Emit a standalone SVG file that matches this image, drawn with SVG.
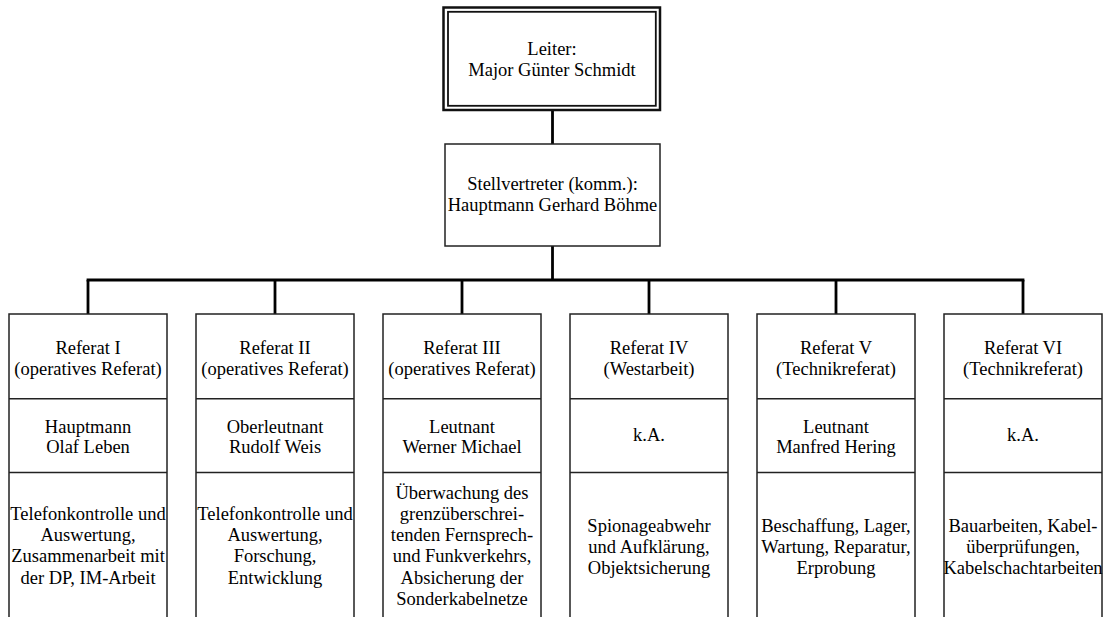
<svg xmlns="http://www.w3.org/2000/svg" width="1105" height="617" viewBox="0 0 1105 617">
<style>
  text { font-family: "Liberation Serif", "Times New Roman", serif; font-size: 18.5px; fill: #000; text-anchor: middle; }
  .box { fill: #fff; stroke: #222; stroke-width: 1.5; }
  .div { stroke: #222; stroke-width: 1.5; }
  .conn { stroke: #000; stroke-width: 2.8; fill: none; }
</style>
<rect width="1105" height="617" fill="#fff"/>
<g id="connectors">
  <line class="conn" x1="552.5" y1="110" x2="552.5" y2="144"/>
  <line class="conn" x1="552.5" y1="246" x2="552.5" y2="280"/>
  <line class="conn" x1="86.6" y1="280" x2="1024.4" y2="280"/>
  <line class="conn" x1="88" y1="280" x2="88" y2="314"/>
  <line class="conn" x1="275" y1="280" x2="275" y2="314"/>
  <line class="conn" x1="462" y1="280" x2="462" y2="314"/>
  <line class="conn" x1="649" y1="280" x2="649" y2="314"/>
  <line class="conn" x1="836" y1="280" x2="836" y2="314"/>
  <line class="conn" x1="1023" y1="280" x2="1023" y2="314"/>
</g>
<g id="leiter">
  <rect x="443.5" y="7.5" width="216.5" height="102.5" fill="#fff" stroke="#111" stroke-width="2.5"/>
  <rect x="448" y="11.8" width="207.8" height="94" fill="none" stroke="#111" stroke-width="1.8"/>
  <text x="552" y="55">Leiter:</text>
  <text x="552" y="76">Major Günter Schmidt</text>
</g>
<g id="stellvertreter">
  <rect class="box" x="445" y="144" width="215" height="102"/>
  <text x="552.5" y="190">Stellvertreter (komm.):</text>
  <text x="552.5" y="211">Hauptmann Gerhard Böhme</text>
</g>
<g id="referat1">
  <rect class="box" x="9" y="314" width="158" height="320"/>
  <line class="div" x1="9" y1="398.8" x2="167" y2="398.8"/>
  <line class="div" x1="9" y1="472.5" x2="167" y2="472.5"/>
  <text x="88" y="353.5">Referat I</text>
  <text x="88" y="374.5">(operatives Referat)</text>
  <text x="88" y="433">Hauptmann</text>
  <text x="88" y="453">Olaf Leben</text>
  <text x="88" y="519.8">Telefonkontrolle und</text>
  <text x="88" y="541.1">Auswertung,</text>
  <text x="88" y="562.4">Zusammenarbeit mit</text>
  <text x="88" y="583.7">der DP, IM-Arbeit</text>
</g>
<g id="referat2">
  <rect class="box" x="196" y="314" width="158" height="320"/>
  <line class="div" x1="196" y1="398.8" x2="354" y2="398.8"/>
  <line class="div" x1="196" y1="472.5" x2="354" y2="472.5"/>
  <text x="275" y="353.5">Referat II</text>
  <text x="275" y="374.5">(operatives Referat)</text>
  <text x="275" y="433">Oberleutnant</text>
  <text x="275" y="453">Rudolf Weis</text>
  <text x="275" y="519.8">Telefonkontrolle und</text>
  <text x="275" y="541.1">Auswertung,</text>
  <text x="275" y="562.4">Forschung,</text>
  <text x="275" y="583.7">Entwicklung</text>
</g>
<g id="referat3">
  <rect class="box" x="383" y="314" width="158" height="320"/>
  <line class="div" x1="383" y1="398.8" x2="541" y2="398.8"/>
  <line class="div" x1="383" y1="472.5" x2="541" y2="472.5"/>
  <text x="462" y="353.5">Referat III</text>
  <text x="462" y="374.5">(operatives Referat)</text>
  <text x="462" y="433">Leutnant</text>
  <text x="462" y="453">Werner Michael</text>
  <text x="462" y="498.5">Überwachung des</text>
  <text x="462" y="519.8">grenzüberschrei-</text>
  <text x="462" y="541.1">tenden Fernsprech-</text>
  <text x="462" y="562.4">und Funkverkehrs,</text>
  <text x="462" y="583.7">Absicherung der</text>
  <text x="462" y="605">Sonderkabelnetze</text>
</g>
<g id="referat4">
  <rect class="box" x="570" y="314" width="158" height="320"/>
  <line class="div" x1="570" y1="398.8" x2="728" y2="398.8"/>
  <line class="div" x1="570" y1="472.5" x2="728" y2="472.5"/>
  <text x="649" y="353.5">Referat IV</text>
  <text x="649" y="374.5">(Westarbeit)</text>
  <text x="649" y="440.5">k.A.</text>
  <text x="649" y="531.5">Spionageabwehr</text>
  <text x="649" y="552.8">und Aufklärung,</text>
  <text x="649" y="574">Objektsicherung</text>
</g>
<g id="referat5">
  <rect class="box" x="757" y="314" width="158" height="320"/>
  <line class="div" x1="757" y1="398.8" x2="915" y2="398.8"/>
  <line class="div" x1="757" y1="472.5" x2="915" y2="472.5"/>
  <text x="836" y="353.5">Referat V</text>
  <text x="836" y="374.5">(Technikreferat)</text>
  <text x="836" y="433">Leutnant</text>
  <text x="836" y="453">Manfred Hering</text>
  <text x="836" y="531.5">Beschaffung, Lager,</text>
  <text x="836" y="552.8">Wartung, Reparatur,</text>
  <text x="836" y="574">Erprobung</text>
</g>
<g id="referat6">
  <rect class="box" x="944" y="314" width="158" height="320"/>
  <line class="div" x1="944" y1="398.8" x2="1102" y2="398.8"/>
  <line class="div" x1="944" y1="472.5" x2="1102" y2="472.5"/>
  <text x="1023" y="353.5">Referat VI</text>
  <text x="1023" y="374.5">(Technikreferat)</text>
  <text x="1023" y="440.5">k.A.</text>
  <text x="1023" y="531.5">Bauarbeiten, Kabel-</text>
  <text x="1023" y="552.8">überprüfungen,</text>
  <text x="1023" y="574">Kabelschachtarbeiten</text>
</g>
</svg>
